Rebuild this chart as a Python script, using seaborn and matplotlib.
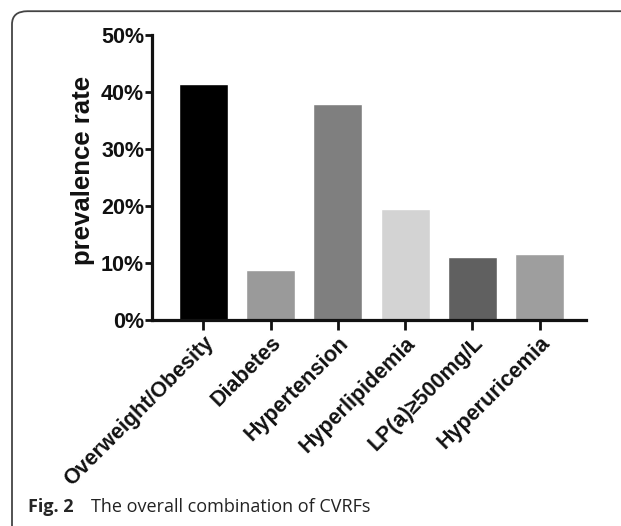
import matplotlib
matplotlib.use("Agg")
import matplotlib.pyplot as plt
import seaborn as sns
import pandas as pd
from matplotlib.patches import FancyBboxPatch
from matplotlib.ticker import FuncFormatter

# data
categories = ['Overweight/Obesity', 'Diabetes', 'Hypertension',
              'Hyperlipidemia', 'LP(a)≥500mg/L', 'Hyperuricemia']
prevalence = [41.4, 8.7, 37.9, 19.4, 11.0, 11.5]
bar_colors = ['#000000', '#9a9a9a', '#7f7f7f', '#d3d3d3', '#606060', '#9e9e9e']
y_ticks = [0, 10, 20, 30, 40, 50]

df = pd.DataFrame({'factor': categories, 'rate': prevalence})

sns.set_theme(style='white')
plt.rcParams['font.family'] = ['Liberation Sans', 'DejaVu Sans']

fig = plt.figure(figsize=(6.21, 5.26), dpi=100)

# rounded frame around the figure panel
frame = FancyBboxPatch((12 / 621, -0.2), 1.2, (515 + 105) / 526,
                       boxstyle='round,pad=0,rounding_size=0.025',
                       transform=fig.transFigure, fill=False,
                       edgecolor='#444444', linewidth=1.3)
fig.patches.append(frame)

ax = fig.add_axes([0.2443, 0.3916, 0.6993, 0.5419])
sns.barplot(data=df, x='factor', y='rate', hue='factor', palette=bar_colors,
            width=0.73, legend=False, ax=ax, saturation=1)

ax.set_ylim(0, 50)
ax.set_xlim(-0.77, 5.69)
ax.set_yticks(y_ticks)
ax.yaxis.set_major_formatter(FuncFormatter(lambda v, p: f'{int(v)}%'))
ax.set_xlabel('')
ax.set_ylabel('prevalence rate', fontsize=18.5, fontweight='bold',
              color='#111111')
ax.yaxis.set_label_coords(-0.158, 0.526)
ax.yaxis.label.set_verticalalignment('center')

for s in ['top', 'right']:
    ax.spines[s].set_visible(False)
for s in ['left', 'bottom']:
    ax.spines[s].set_linewidth(2.3)
    ax.spines[s].set_color('#111111')

ax.tick_params(axis='both', which='major', width=2, color='#111111',
               direction='out', left=True, bottom=True, labelcolor='#111111')
ax.tick_params(axis='y', labelsize=15.5, pad=0.5, length=5)
ax.tick_params(axis='x', labelsize=15.5, pad=2, length=7)
for lab in ax.get_yticklabels():
    lab.set_fontweight('bold')
for lab in ax.get_xticklabels():
    lab.set_fontweight('bold')
    lab.set_rotation(45)
    lab.set_ha('right')
    lab.set_rotation_mode('anchor')

fig.text(28 / 621, 1 - 512 / 526, 'Fig. 2', fontsize=13, fontweight='bold',
         family=['Open Sans', 'DejaVu Sans'])
fig.text(91 / 621, 1 - 512 / 526, 'The overall combination of CVRFs',
         fontsize=13, family=['Open Sans', 'DejaVu Sans'], color='#222222')

fig.savefig('out.png', dpi=100)
